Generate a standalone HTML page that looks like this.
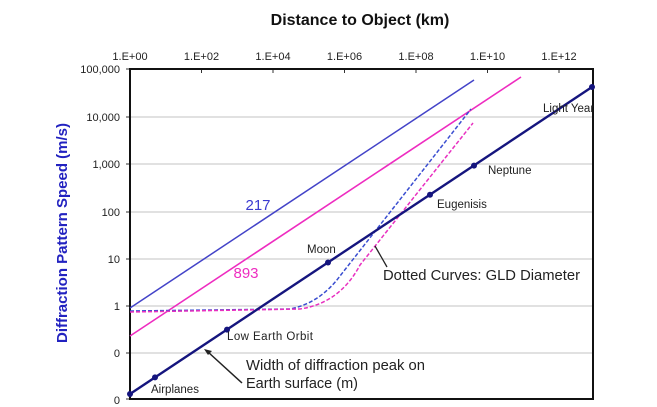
<!DOCTYPE html>
<html>
<head>
<meta charset="utf-8">
<style>
html,body{margin:0;padding:0;background:#fff;}
svg{display:block;}
text{font-family:"Liberation Sans",Arial,sans-serif;}
</style>
</head>
<body>
<svg width="657" height="407" viewBox="0 0 657 407" xmlns="http://www.w3.org/2000/svg">
<rect width="657" height="407" fill="#fff"/>
<!-- title -->
<text x="360" y="25" font-size="16" font-weight="bold" text-anchor="middle" fill="#111">Distance to Object (km)</text>
<!-- y axis title -->
<text transform="translate(67,233) rotate(-90)" font-size="15" font-weight="bold" text-anchor="middle" fill="#2222c0">Diffraction Pattern Speed (m/s)</text>

<!-- gridlines -->
<g stroke="#cfcfcf" stroke-width="1.2">
<line x1="130" y1="117" x2="593" y2="117"/>
<line x1="130" y1="164" x2="593" y2="164"/>
<line x1="130" y1="212" x2="593" y2="212"/>
<line x1="130" y1="259" x2="593" y2="259"/>
<line x1="130" y1="306" x2="593" y2="306"/>
<line x1="130" y1="353" x2="593" y2="353"/>
</g>
<!-- top ticks -->
<g stroke="#333" stroke-width="1">
<line x1="201.5" y1="69" x2="201.5" y2="73"/>
<line x1="273" y1="69" x2="273" y2="73"/>
<line x1="344.5" y1="69" x2="344.5" y2="73"/>
<line x1="416" y1="69" x2="416" y2="73"/>
<line x1="487.5" y1="69" x2="487.5" y2="73"/>
<line x1="559" y1="69" x2="559" y2="73"/>
<line x1="126" y1="69" x2="130" y2="69"/>
<line x1="126" y1="117" x2="130" y2="117"/>
<line x1="126" y1="164" x2="130" y2="164"/>
<line x1="126" y1="212" x2="130" y2="212"/>
<line x1="126" y1="259" x2="130" y2="259"/>
<line x1="126" y1="306" x2="130" y2="306"/>
<line x1="126" y1="353" x2="130" y2="353"/>
<line x1="126" y1="399" x2="130" y2="399"/>
</g>
<!-- frame -->
<rect x="130" y="69" width="463" height="330" fill="none" stroke="#111" stroke-width="2"/>

<!-- x tick labels -->
<g font-size="11" fill="#222" text-anchor="middle">
<text x="130" y="60">1.E+00</text>
<text x="201.5" y="60">1.E+02</text>
<text x="273" y="60">1.E+04</text>
<text x="344.5" y="60">1.E+06</text>
<text x="416" y="60">1.E+08</text>
<text x="487.5" y="60">1.E+10</text>
<text x="559" y="60">1.E+12</text>
</g>
<!-- y tick labels -->
<g font-size="11" fill="#222" text-anchor="end">
<text x="120" y="73">100,000</text>
<text x="120" y="121">10,000</text>
<text x="120" y="168">1,000</text>
<text x="120" y="216">100</text>
<text x="120" y="263">10</text>
<text x="120" y="310">1</text>
<text x="120" y="357">0</text>
<text x="120" y="404">0</text>
</g>

<!-- solid lines -->
<line x1="130" y1="308" x2="474" y2="80" stroke="#4343c8" stroke-width="1.5"/>
<line x1="130" y1="336" x2="521" y2="77" stroke="#ee2cc0" stroke-width="1.6"/>

<!-- dashed curves -->
<path d="M130,311 L290,309 Q320,303 340,276 L471,109" fill="none" stroke="#3a4ed0" stroke-width="1.5" stroke-dasharray="4,2"/>
<path d="M130,312 L300,309 Q340,303 360,265 L473,123" fill="none" stroke="#e830c0" stroke-width="1.5" stroke-dasharray="4,2"/>

<!-- navy line with markers -->
<line x1="130" y1="394" x2="592" y2="87" stroke="#15157e" stroke-width="2.4"/>
<g fill="#15157e">
<circle cx="130" cy="394" r="3"/>
<circle cx="155" cy="377.4" r="3"/>
<circle cx="227" cy="329.6" r="3"/>
<circle cx="328" cy="262.5" r="3"/>
<circle cx="430" cy="194.8" r="3"/>
<circle cx="474" cy="165.6" r="3"/>
<circle cx="592" cy="87" r="3"/>
</g>

<!-- series labels -->
<text x="258" y="210" font-size="15" fill="#3a3ad0" text-anchor="middle">217</text>
<text x="246" y="278" font-size="15" fill="#ee2cc0" text-anchor="middle">893</text>

<!-- point labels -->
<g font-size="11.5" fill="#222">
<text x="151" y="393">Airplanes</text>
<text x="227" y="340" textLength="86">Low Earth Orbit</text>
<text x="307" y="253">Moon</text>
<text x="437" y="208">Eugenisis</text>
<text x="488" y="174">Neptune</text>
<text x="543" y="112">Light Year</text>
</g>

<!-- annotations -->
<g font-size="14.5" fill="#222">
<text x="383" y="280" textLength="197" lengthAdjust="spacingAndGlyphs">Dotted Curves: GLD Diameter</text>
<text x="246" y="370" textLength="179" lengthAdjust="spacingAndGlyphs">Width of diffraction peak on</text>
<text x="246" y="388">Earth surface (m)</text>
</g>
<line x1="375" y1="246" x2="387" y2="267" stroke="#222" stroke-width="1.3"/>
<line x1="242" y1="383" x2="208" y2="352" stroke="#222" stroke-width="1.5"/>
<path d="M204,349 L212,351 L208,355 Z" fill="#222"/>
</svg>
</body>
</html>
